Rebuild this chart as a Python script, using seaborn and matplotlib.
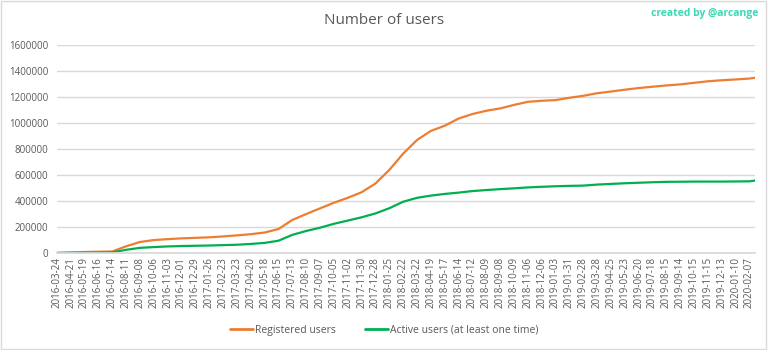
import numpy as np
import pandas as pd
import matplotlib
matplotlib.use("Agg")
import matplotlib.pyplot as plt
import seaborn as sns
from matplotlib.patches import Rectangle

# ---- data ----
tick_labels = [
    "2016-03-24", "2016-04-21", "2016-05-19", "2016-06-16", "2016-07-14", "2016-08-11",
    "2016-09-08", "2016-10-06", "2016-11-03", "2016-12-01", "2016-12-29",
    "2017-01-26", "2017-02-23", "2017-03-23", "2017-04-20", "2017-05-18", "2017-06-15",
    "2017-07-13", "2017-08-10", "2017-09-07", "2017-10-05", "2017-11-02", "2017-11-30",
    "2017-12-28",
    "2018-01-25", "2018-02-22", "2018-03-22", "2018-04-19", "2018-05-17", "2018-06-14",
    "2018-07-12", "2018-08-09", "2018-09-08", "2018-10-09", "2018-11-06", "2018-12-06",
    "2019-01-03", "2019-01-31", "2019-02-28", "2019-03-28", "2019-04-25", "2019-05-23",
    "2019-06-20", "2019-07-18", "2019-08-15", "2019-09-14", "2019-10-15", "2019-11-15",
    "2019-12-13", "2020-01-10", "2020-02-07",
]
# observation index of each sampled point (labels every 28 observations, plus last obs)
obs_index = [28 * i for i in range(len(tick_labels))] + [1411]

registered = [
    2000, 5000, 8000, 10000, 12000, 52000, 85000, 100000, 107000, 113000, 117000,
    121000, 128000, 136000, 145000, 158000, 185000, 255000, 300000, 344000, 387000,
    425000, 468000, 535000, 640000, 765000, 870000, 940000, 980000, 1035000, 1070000,
    1095000, 1113000, 1140000, 1164000, 1172000, 1177000, 1195000, 1210000, 1230000,
    1243000, 1257000, 1270000, 1280000, 1290000, 1298000, 1310000, 1322000, 1330000,
    1336000, 1343000, 1349000,
]
active = [
    0, 1000, 2000, 3000, 5000, 25000, 40000, 46000, 51000, 54000, 56000,
    58000, 61000, 64000, 70000, 78000, 95000, 140000, 170000, 195000, 225000,
    250000, 275000, 305000, 345000, 395000, 425000, 442000, 455000, 465000, 477000,
    485000, 492000, 498000, 505000, 510000, 514000, 517000, 519000, 527000,
    532000, 537000, 541000, 545000, 548000, 549000, 550000, 550000, 550000,
    551000, 552000, 558000,
]
series_names = ["Registered users", "Active users (at least one time)"]
series_colors = ["#ED7D31", "#00B050"]

df = pd.DataFrame({
    "obs": obs_index * 2,
    "users": registered + active,
    "series": [series_names[0]] * len(registered) + [series_names[1]] * len(active),
})

sns.set_theme(style="white")
plt.rcParams["font.family"] = ["Open Sans", "DejaVu Sans"]

fig = plt.figure(figsize=(7.68, 3.5), dpi=100)
ax = fig.add_axes([0.074, 0.277, 0.909, 0.594])

sns.lineplot(data=df, x="obs", y="users", hue="series", palette=series_colors,
             hue_order=series_names, linewidth=1.6, ax=ax, legend=False)

ax.set_xlim(0, obs_index[-1])
ax.set_ylim(0, 1600000)
ax.set_yticks(np.arange(0, 1600001, 200000))
ax.set_yticklabels([f"{int(v)}" for v in np.arange(0, 1600001, 200000)],
                   fontsize=7, color="#595959")
ax.set_xticks(obs_index[:len(tick_labels)])
ax.set_xticklabels(tick_labels, rotation=90, fontsize=7, color="#595959")
ax.tick_params(axis="both", length=0, pad=3)
ax.tick_params(axis="y", pad=6)
ax.grid(axis="y", color="#D9D9D9", linewidth=1)
ax.set_axisbelow(True)
for s in ["top", "right", "left"]:
    ax.spines[s].set_visible(False)
ax.spines["bottom"].set_color("#D9D9D9")
ax.set_xlabel("")
ax.set_ylabel("")

fig.text(0.5, 0.94, "Number of users", ha="center", va="center",
         fontsize=11, color="#595959")
fig.text(0.987, 0.962, "created by @arcange", ha="right", va="center",
         fontsize=7.5, color="#3BD9B5", fontweight="bold")

# legend
from matplotlib.lines import Line2D
handles = [Line2D([0], [0], color=c, lw=2) for c in series_colors]
fig.legend(handles, series_names, loc="center", bbox_to_anchor=(0.5, 0.057),
           ncol=2, frameon=False, fontsize=7.5, handlelength=2.2,
           handletextpad=0.2, columnspacing=2.8, labelcolor="#595959")

fig.patches.append(Rectangle((0.001, 0.002), 0.997, 0.995, transform=fig.transFigure,
                             fill=False, edgecolor="#D9D9D9", linewidth=1))

fig.savefig("out.png", dpi=100)
